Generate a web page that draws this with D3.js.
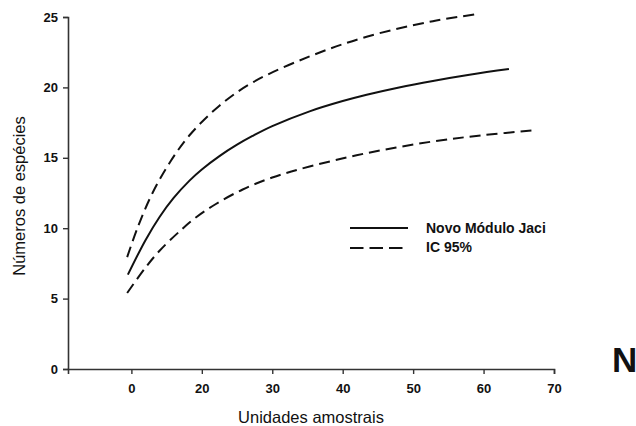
<!DOCTYPE html>
<html>
<head>
<meta charset="utf-8">
<script src="https://cdn.jsdelivr.net/npm/d3@7"></script>
<style>
  html, body { margin: 0; padding: 0; background: #fff; }
  svg { display: block; }
  text { font-family: "Liberation Sans", Arial, Helvetica, sans-serif; fill: #111; }
</style>
</head>
<body>
<script>
// ---- data ----
const xTickValues = [10, 20, 30, 40, 50, 60, 70];
const xTickLabels = ["0", "20", "30", "40", "50", "60", "70"];
const yTickValues = [0, 5, 10, 15, 20, 25];

const solidX = [9.5, 12, 14, 16, 18.25, 20, 22.5, 25, 27.2, 30, 35.3, 40, 43.4, 48, 52.8, 58, 63.6];
const solidY = [6.7, 9.15, 10.8, 12.15, 13.38, 14.17, 15.12, 15.93, 16.55, 17.25, 18.3, 19.03, 19.48, 20.0, 20.46, 20.9, 21.3];

const upperX = [9.4, 11, 13, 15.5, 18.25, 22.5, 27.2, 35.3, 43.4, 52.8, 59.1];
const upperY = [7.95, 10.2, 12.5, 14.7, 16.6, 18.7, 20.35, 22.2, 23.6, 24.7, 25.2];

const lowerX = [9.4, 12, 14, 17, 19.2, 22, 25.8, 30, 35.3, 43.4, 52.8, 60, 67.6];
const lowerY = [5.4, 7.2, 8.4, 9.85, 10.78, 11.72, 12.75, 13.6, 14.38, 15.33, 16.16, 16.61, 16.97];

const legendLabels = ["Novo Módulo Jaci", "IC 95%"];
const xTitle = "Unidades amostrais";
const yTitle = "Números de espécies";

// ---- layout ----
const W = 636, H = 426;
const svg = d3.select("body").append("svg").attr("width", W).attr("height", H);

const x = d3.scaleLinear().domain([1, 70]).range([68, 554]);
const y = d3.scaleLinear().domain([0, 25]).range([369, 17]);

const axisColor = "#333";

// y axis
const yAxis = d3.axisLeft(y).tickValues(yTickValues).tickSize(5).tickPadding(5).tickFormat(d3.format("d"));
const gy = svg.append("g").attr("transform", `translate(${x(1)},0)`).call(yAxis);
gy.select(".domain").attr("stroke", axisColor).attr("stroke-width", 1.6);
gy.selectAll(".tick line").attr("stroke", axisColor).attr("stroke-width", 1.4);
gy.selectAll(".tick text")
  .style("font-family", "'Liberation Sans', Arial, sans-serif")
  .style("font-size", "13px").style("font-weight", "bold").attr("fill", "#111");

// x axis
const xAxis = d3.axisBottom(x).tickValues(xTickValues).tickSize(5).tickPadding(10)
  .tickFormat((d, i) => xTickLabels[i]);
const gx = svg.append("g").attr("transform", `translate(0,${y(0)})`).call(xAxis);
gx.select(".domain").attr("stroke", axisColor).attr("stroke-width", 1.6);
gx.selectAll(".tick line").attr("stroke", axisColor).attr("stroke-width", 1.4);
gx.selectAll(".tick text")
  .style("font-family", "'Liberation Sans', Arial, sans-serif")
  .style("font-size", "13px").style("font-weight", "bold").attr("fill", "#111");

// axis titles
svg.append("text")
  .attr("x", 311).attr("y", 423)
  .attr("text-anchor", "middle")
  .style("font-size", "16.5px")
  .text(xTitle);

svg.append("text")
  .attr("transform", "translate(25,196) rotate(-90)")
  .attr("text-anchor", "middle")
  .style("font-size", "16.5px")
  .text(yTitle);

// curves
const line = d3.line().x(d => x(d[0])).y(d => y(d[1])).curve(d3.curveCatmullRom.alpha(0.5));
const zip = (a, b) => a.map((v, i) => [v, b[i]]);

svg.append("path").datum(zip(upperX, upperY))
  .attr("d", line).attr("fill", "none").attr("stroke", "#111")
  .attr("stroke-width", 2).attr("stroke-dasharray", "11,6");
svg.append("path").datum(zip(lowerX, lowerY))
  .attr("d", line).attr("fill", "none").attr("stroke", "#111")
  .attr("stroke-width", 2).attr("stroke-dasharray", "11,6");
svg.append("path").datum(zip(solidX, solidY))
  .attr("d", line).attr("fill", "none").attr("stroke", "#111")
  .attr("stroke-width", 2);

// legend
const leg = svg.append("g").attr("transform", "translate(350,228)");
leg.append("line").attr("x1", 0).attr("x2", 58).attr("y1", 0).attr("y2", 0)
  .attr("stroke", "#111").attr("stroke-width", 2);
leg.append("line").attr("x1", 0).attr("x2", 54).attr("y1", 20).attr("y2", 20)
  .attr("stroke", "#111").attr("stroke-width", 2).attr("stroke-dasharray", "13.5,6");
leg.selectAll("text.lab").data(legendLabels).enter().append("text")
  .attr("class", "lab")
  .attr("x", 76).attr("y", (d, i) => 5 + i * 19)
  .style("font-size", "14px").style("font-weight", "bold")
  .text(d => d);

// stray panel letter at right edge
svg.append("text")
  .attr("x", 612).attr("y", 372)
  .style("font-size", "35px").style("font-weight", "bold")
  .attr("fill", "#000")
  .text("N");
</script>
</body>
</html>
